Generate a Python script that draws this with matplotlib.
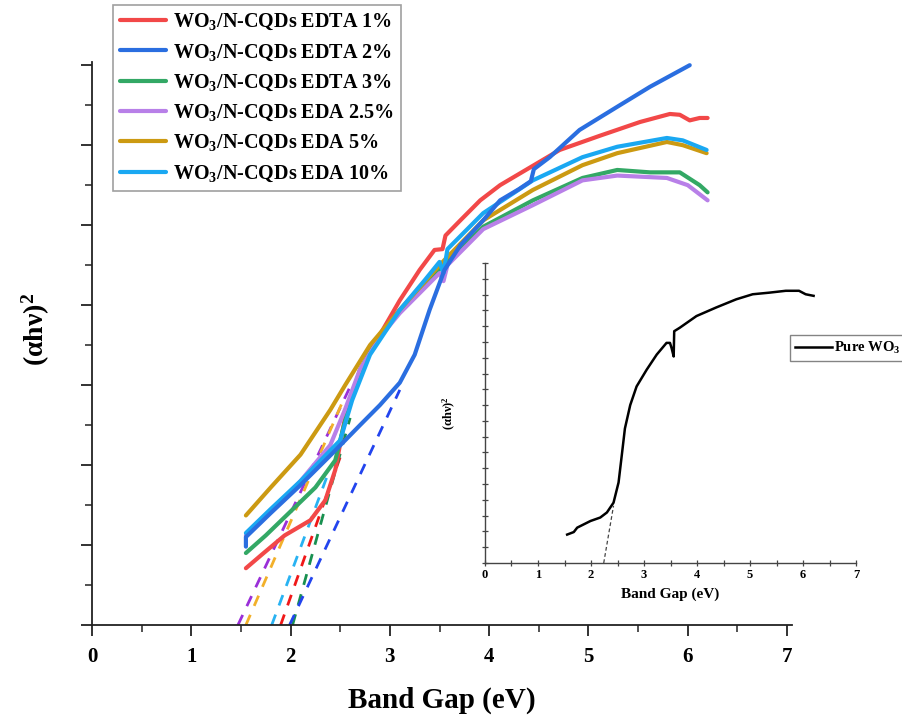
import matplotlib
matplotlib.use("Agg")
import matplotlib.pyplot as plt
import numpy as np
from matplotlib.ticker import MultipleLocator, NullFormatter

plt.rcParams['font.family'] = ['Liberation Serif', 'DejaVu Serif']
plt.rcParams['font.weight'] = 'bold'
plt.rcParams['mathtext.fontset'] = 'custom'
plt.rcParams['mathtext.rm'] = 'Liberation Serif:bold'
plt.rcParams['mathtext.bf'] = 'Liberation Serif:bold'
plt.rcParams['mathtext.it'] = 'Liberation Serif:bold:italic'

# ---------------- data (main panel) ----------------
labels = ['WO$_{3}$/N-CQDs EDTA 1%', 'WO$_{3}$/N-CQDs EDTA 2%', 'WO$_{3}$/N-CQDs EDTA 3%',
          'WO$_{3}$/N-CQDs EDA 2.5%', 'WO$_{3}$/N-CQDs EDA 5%', 'WO$_{3}$/N-CQDs EDA 10%']
colors = ['#f24848', '#2a6ee0', '#33a865', '#b880e8', '#cc9a12', '#1aa8f2']
dash_colors = ['#f01818', '#2244ee', '#189050', '#9a2fd8', '#f2b02a', '#28b2f2']

edta1_x = [1.55, 1.71, 1.94, 2.20, 2.35, 2.45, 2.55, 2.70, 2.90, 3.10, 3.30, 3.45, 3.53, 3.56, 3.71, 3.91, 4.11, 4.41, 4.71, 5.12, 5.52, 5.82, 5.92, 6.02, 6.12, 6.20]
edta1_y = [0.71, 0.88, 1.12, 1.31, 1.56, 1.94, 2.60, 3.19, 3.63, 4.06, 4.44, 4.69, 4.70, 4.87, 5.06, 5.31, 5.50, 5.72, 5.94, 6.12, 6.29, 6.39, 6.38, 6.31, 6.34, 6.34]

edta2_x = [1.55, 1.55, 1.80, 2.10, 2.40, 2.70, 2.90, 3.10, 3.25, 3.40, 3.55, 3.71, 3.94, 4.11, 4.30, 4.42, 4.45, 4.61, 4.91, 5.29, 5.62, 6.02]
edta2_y = [0.98, 1.10, 1.40, 1.75, 2.12, 2.50, 2.75, 3.03, 3.38, 3.94, 4.44, 4.75, 5.06, 5.31, 5.45, 5.55, 5.70, 5.85, 6.19, 6.48, 6.73, 7.00]

edta3_x = [1.55, 1.75, 2.00, 2.25, 2.45, 2.55, 2.70, 2.90, 3.10, 3.50, 3.94, 4.44, 4.94, 5.29, 5.62, 5.92, 6.12, 6.20]
edta3_y = [0.90, 1.12, 1.42, 1.72, 2.06, 2.56, 3.19, 3.63, 3.94, 4.45, 4.98, 5.31, 5.59, 5.69, 5.66, 5.66, 5.50, 5.41]

eda25_x = [1.55, 1.80, 2.10, 2.40, 2.55, 2.70, 2.90, 3.10, 3.50, 3.54, 3.58, 3.94, 4.44, 4.94, 5.29, 5.79, 6.00, 6.20]
eda25_y = [1.12, 1.42, 1.80, 2.25, 2.70, 3.20, 3.60, 3.90, 4.40, 4.30, 4.50, 4.95, 5.25, 5.56, 5.62, 5.59, 5.50, 5.31]

eda5_x = [1.55, 1.80, 2.10, 2.40, 2.55, 2.80, 3.10, 3.50, 3.94, 4.44, 4.94, 5.29, 5.79, 5.95, 6.19]
eda5_y = [1.37, 1.72, 2.13, 2.69, 3.00, 3.50, 3.94, 4.50, 5.06, 5.44, 5.75, 5.90, 6.04, 6.00, 5.90]

eda10_x = [1.55, 1.80, 2.10, 2.50, 2.62, 2.80, 3.10, 3.35, 3.50, 3.54, 3.58, 3.94, 4.44, 4.94, 5.29, 5.79, 5.95, 6.19]
eda10_y = [1.15, 1.45, 1.80, 2.31, 2.81, 3.38, 3.94, 4.31, 4.54, 4.40, 4.70, 5.15, 5.56, 5.85, 5.98, 6.09, 6.06, 5.94]

series_x = [edta1_x, edta2_x, edta3_x, eda25_x, eda5_x, eda10_x]
series_y = [edta1_y, edta2_y, edta3_y, eda25_y, eda5_y, eda10_y]

# tangent (extrapolation) lines: start (y=0) and end points
tan_x = [[1.90, 2.50], [1.99, 3.10], [2.02, 2.60], [1.47, 2.63], [1.55, 2.53], [1.81, 2.38]]
tan_y = [[0.00, 2.10], [0.00, 2.94], [0.00, 2.59], [0.00, 3.06], [0.00, 2.81], [0.00, 1.90]]

# ---------------- data (inset: pure WO3) ----------------
pure_x = [1.55, 1.675, 1.74, 1.99, 2.175, 2.30, 2.425, 2.52, 2.58, 2.64, 2.74, 2.86, 3.05, 3.24, 3.425,
          3.49, 3.52, 3.56, 3.57, 3.675, 3.99, 4.36, 4.74, 5.05, 5.36, 5.675, 5.925, 6.05, 6.20]
pure_y = [0.90, 0.98, 1.12, 1.33, 1.44, 1.60, 1.91, 2.55, 3.40, 4.26, 5.00, 5.59, 6.12, 6.60, 6.97,
          6.97, 6.81, 6.54, 7.34, 7.45, 7.82, 8.09, 8.35, 8.51, 8.56, 8.62, 8.62, 8.51, 8.46]
pure_tan_x = [2.24, 2.425]
pure_tan_y = [0.00, 1.81]

W, H = 903, 719
fig = plt.figure(figsize=(W / 100, H / 100), dpi=100)

# ---------------- main axes ----------------
ax = fig.add_axes([92 / W, 1 - 625 / H, 700 / W, 563 / H])
order = [0, 2, 3, 4, 5, 1]
for i in order:
    ax.plot(tan_x[i], tan_y[i], color=dash_colors[i], lw=2.0, ls=(0, (4, 3.5)), zorder=2)
handles = {}
for i in order:
    h, = ax.plot(series_x[i], series_y[i], color=colors[i], lw=3.0, zorder=3,
                 solid_capstyle='round', solid_joinstyle='round')
    handles[i] = h
ax.set_xlim(0, 7.05)
ax.set_ylim(0, 7.04)
ax.xaxis.set_major_locator(MultipleLocator(1))
ax.xaxis.set_minor_locator(MultipleLocator(0.5))
ax.yaxis.set_major_locator(MultipleLocator(1))
ax.yaxis.set_minor_locator(MultipleLocator(0.5))
ax.yaxis.set_major_formatter(NullFormatter())
ax.spines['top'].set_visible(False)
ax.spines['right'].set_visible(False)
for s in ['left', 'bottom']:
    ax.spines[s].set_linewidth(1.3)
    ax.spines[s].set_color('#222222')
ax.tick_params(axis='both', which='major', direction='out', length=8, width=1.3, color='#222222')
ax.tick_params(axis='both', which='minor', direction='out', length=5, width=1.1, color='#222222')
ax.tick_params(axis='x', labelsize=15, pad=8)
for lab in ax.get_xticklabels():
    lab.set_fontweight('bold')
ax.set_xlabel('Band Gap (eV)', fontsize=21, fontweight='bold', labelpad=14)
ax.set_ylabel('(αhν)$^{2}$', fontsize=20, fontweight='bold')
ax.yaxis.set_label_coords((52 - 92) / 700, (625 - 329) / 563)

leg = fig.legend([handles[i] for i in range(6)], labels, loc='upper left',
                 bbox_to_anchor=(113 / W, 1 - 5 / H), borderaxespad=0,
                 prop={'size': 14.5, 'weight': 'bold'},
                 frameon=True, fancybox=False, handlelength=2.3, handletextpad=0.35,
                 labelspacing=0.5, borderpad=0.35)
leg.get_frame().set_edgecolor('#888888')
leg.get_frame().set_linewidth(1.2)

# ---------------- inset axes ----------------
ins = fig.add_axes([485 / W, 1 - 563 / H, 371 / W, 300 / H])
ins.plot(pure_tan_x, pure_tan_y, color='#444444', lw=0.9, ls=(0, (3, 2)))
hp, = ins.plot(pure_x, pure_y, color='black', lw=1.8, label='Pure WO$_{3}$')
ins.set_xlim(0, 7)
ins.set_ylim(0, 9.5)
ins.xaxis.set_major_locator(MultipleLocator(1))
ins.xaxis.set_minor_locator(MultipleLocator(0.5))
ins.yaxis.set_major_locator(MultipleLocator(1))
ins.yaxis.set_minor_locator(MultipleLocator(0.5))
ins.yaxis.set_major_formatter(NullFormatter())
ins.spines['top'].set_visible(False)
ins.spines['right'].set_visible(False)
for s in ['left', 'bottom']:
    ins.spines[s].set_linewidth(1.0)
    ins.spines[s].set_color('#444444')
ins.tick_params(axis='both', which='both', direction='inout', length=4, width=0.9, color='#444444')
ins.tick_params(axis='x', labelsize=9, pad=2)
for lab in ins.get_xticklabels():
    lab.set_fontweight('bold')
ins.set_xlabel('Band Gap (eV)', fontsize=11, fontweight='bold', labelpad=5)
ins.set_ylabel('(αhν)$^{2}$', fontsize=9, fontweight='bold', labelpad=14)

leg2 = fig.legend([hp], ['Pure WO$_{3}$'], loc='upper left', bbox_to_anchor=(790 / W, 1 - 335 / H),
                  borderaxespad=0, prop={'size': 10.5, 'weight': 'bold'}, frameon=True, fancybox=False,
                  handlelength=2.5, handletextpad=0.2, borderpad=0.35)
leg2.get_frame().set_edgecolor('#666666')
leg2.get_frame().set_linewidth(1.0)

fig.savefig('out.png', dpi=100)
